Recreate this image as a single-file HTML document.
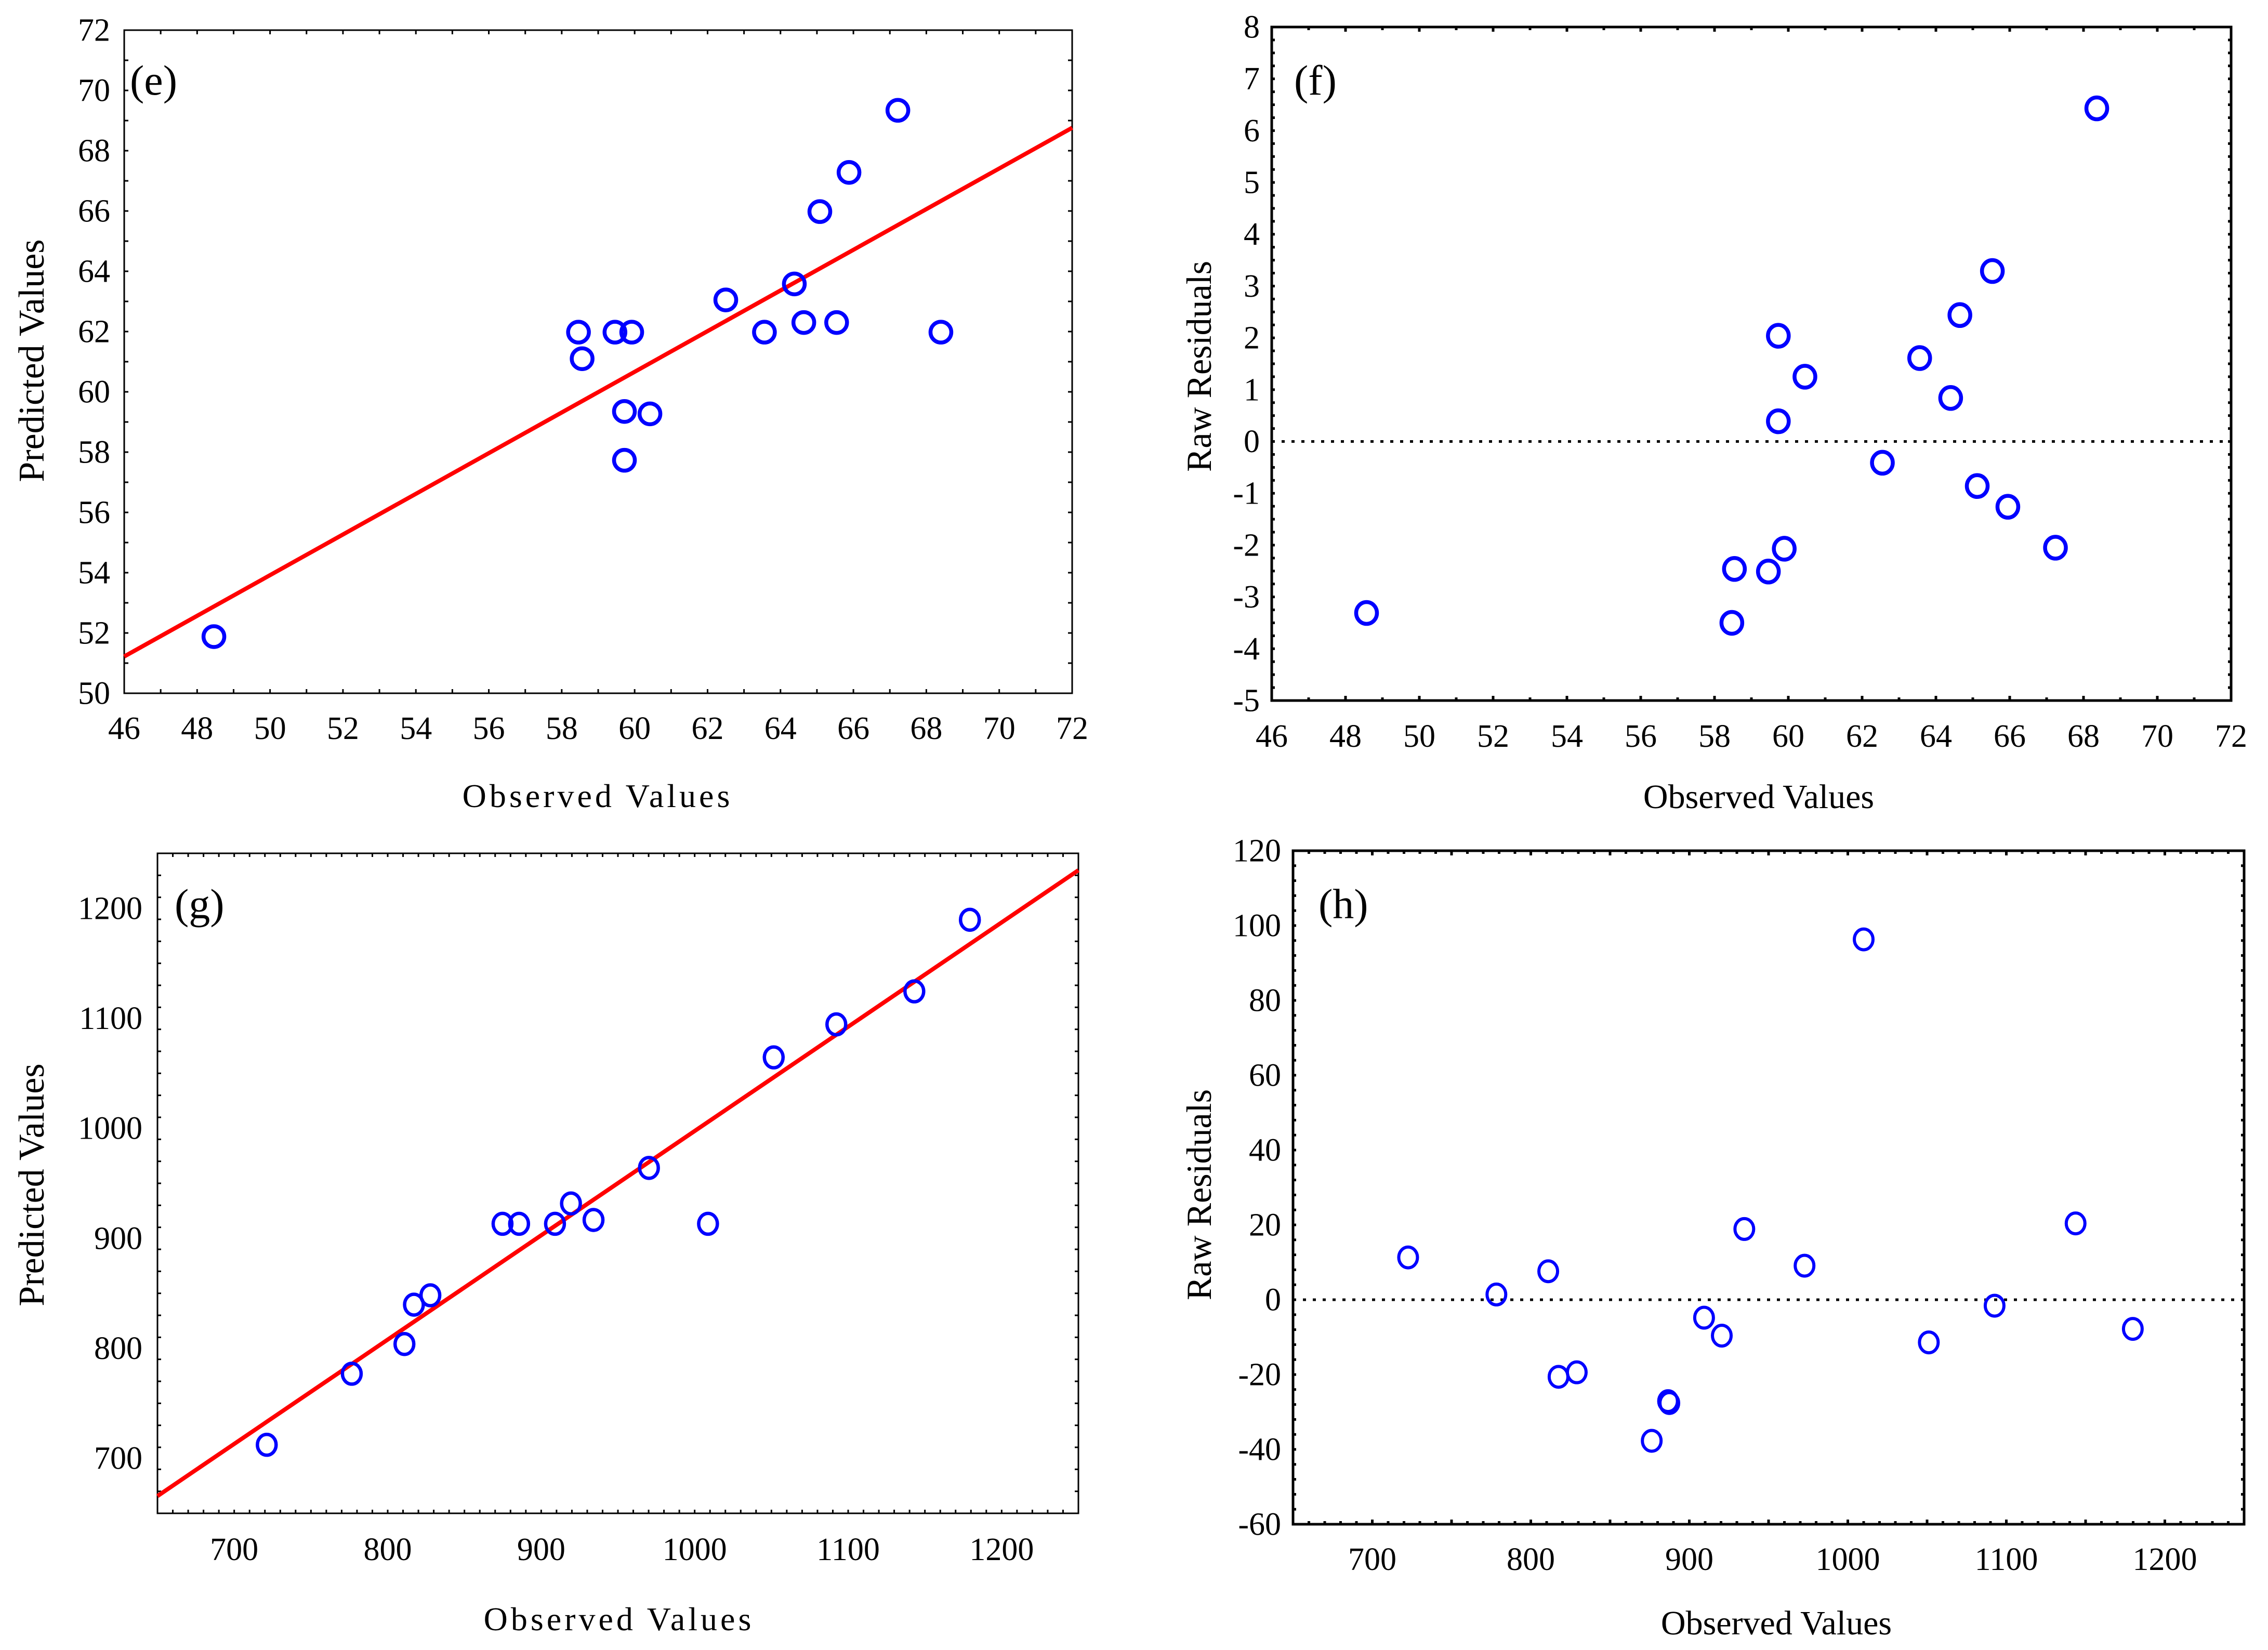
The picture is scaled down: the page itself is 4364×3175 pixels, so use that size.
<!DOCTYPE html>
<html><head><meta charset="utf-8">
<style>
html,body{margin:0;padding:0;background:#fff;}
svg{display:block;}
text{font-family:"Liberation Serif",serif;fill:#000;}
</style></head>
<body>
<svg id="fig" width="4364" height="3175" viewBox="0 0 4364 3175" xmlns="http://www.w3.org/2000/svg"></svg>
<script>
// ---- Panel (e) data: observed vs predicted ----
const eObserved = [48.46,58.46,58.56,59.46,59.92,59.72,60.42,59.72,62.5,63.56,64.38,64.64,65.08,65.54,65.88,67.22,68.4];
const ePredicted = [51.88,61.98,61.10,61.98,61.98,59.35,59.27,57.73,63.05,61.98,63.58,62.30,65.98,62.30,67.28,69.34,61.98];
const eFitX = [46,72];
const eFitY = [51.22,68.76];
const eXTicks = [46,48,50,52,54,56,58,60,62,64,66,68,70,72];
const eYTicks = [50,52,54,56,58,60,62,64,66,68,70,72];
// ---- Panel (f) data: observed vs residuals ----
const fObserved = [48.57,58.47,58.54,59.46,59.89,59.73,59.73,60.45,62.55,63.56,64.40,64.65,65.12,65.53,65.95,67.24,68.36];
const fResidual = [-3.31,-3.50,-2.46,-2.51,-2.07,2.04,0.39,1.25,-0.41,1.61,0.84,2.44,-0.86,3.29,-1.26,-2.05,6.43];
const fXTicks = [46,48,50,52,54,56,58,60,62,64,66,68,70,72];
const fYTicks = [-5,-4,-3,-2,-1,0,1,2,3,4,5,6,7,8];
// ---- Panel (g) data ----
const gObserved = [721.2,776.6,810.9,817.1,827.8,874.8,885.6,909.0,919.4,934.1,970.2,1008.7,1051.5,1092.3,1143.1,1179.3];
const gPredicted = [712.3,776.9,803.9,839.7,848.2,913.2,913.2,913.2,931.7,916.7,964.0,913.2,1064.5,1094.5,1124.5,1189.6];
const gFitX = [650,1250];
const gFitY = [665.7,1234.6];
const gXTicks = [700,800,900,1000,1100,1200];
const gYTicks = [700,800,900,1000,1100,1200];
// ---- Panel (h) data ----
const hObserved = [722.6,778.3,811.0,817.5,829.0,876.3,886.6,887.4,909.3,920.5,934.7,972.7,1010.0,1051.1,1092.6,1143.7,1179.8];
const hResidual = [11.3,1.4,7.6,-20.6,-19.4,-37.7,-27.1,-27.6,-4.8,-9.6,18.9,9.1,96.3,-11.4,-1.6,20.4,-7.8];
const hXTicks = [700,800,900,1000,1100,1200];
const hYTicks = [-60,-40,-20,0,20,40,60,80,100,120];

const NS = "http://www.w3.org/2000/svg";
const fig = document.getElementById('fig');
function mk(tag, attrs, parent){
  const el = document.createElementNS(NS, tag);
  for (const k in attrs) el.setAttribute(k, attrs[k]);
  (parent||fig).appendChild(el);
  return el;
}
function scale(d0,d1,r0,r1){ return v => r0 + (v-d0)*(r1-r0)/(d1-d0); }

function panel(cfg){
  const g = mk('g', {});
  
  
  const sx = scale(cfg.xd[0],cfg.xd[1],cfg.L,cfg.R);
  const sy = scale(cfg.yd[0],cfg.yd[1],cfg.B,cfg.T);
  const tl = cfg.tickLen, tw = cfg.tickW;
  for (let v=cfg.xd[0]; v<=cfg.xd[1]+1e-9; v+=cfg.xMinor){
    const x = sx(v);
    const major = Math.abs(((v-cfg.xd[0])/cfg.xMajor) - Math.round((v-cfg.xd[0])/cfg.xMajor))<1e-6;
    const len = major?cfg.majLen:tl;
    const t1 = mk('line',{x1:x,x2:x,y1:cfg.B,y2:cfg.B-len,stroke:'#000','stroke-width':tw},g);
    
    
    const t2 = mk('line',{x1:x,x2:x,y1:cfg.T,y2:cfg.T+len,stroke:'#000','stroke-width':tw},g);
    
    
  }
  for (let v=cfg.yd[0]; v<=cfg.yd[1]+1e-9; v+=cfg.yMinor){
    const y = sy(v);
    const t1 = mk('line',{x1:cfg.L,x2:cfg.L+tl,y1:y,y2:y,stroke:'#000','stroke-width':tw},g);
    
    
    const t2 = mk('line',{x1:cfg.R,x2:cfg.R-tl,y1:y,y2:y,stroke:'#000','stroke-width':tw},g);
    
    
  }
  const fr = mk('rect',{x:cfg.L,y:cfg.T,width:cfg.R-cfg.L,height:cfg.B-cfg.T,fill:'none',stroke:'#000','stroke-width':cfg.frameW},g);
  
  
  cfg.xTicks.forEach(v=>{
    const t = mk('text',{x:sx(v),y:cfg.xLabBase,'text-anchor':'middle','font-size':cfg.fs},g);
    t.textContent = v;
    
    
  });
  cfg.yTicks.forEach(v=>{
    const t = mk('text',{x:cfg.yLabRight,y:sy(v)+cfg.fs*0.33,'text-anchor':'end','font-size':cfg.fs},g);
    t.textContent = v;
    
    
  });
  const xt = mk('text',{x:cfg.xTitle[0],y:cfg.xTitle[1],'text-anchor':'middle','font-size':cfg.xfs,'letter-spacing':cfg.ls||0},g);
  xt.textContent = 'Observed Values';
  
  
  const yt = mk('text',{x:0,y:0,'text-anchor':'middle','font-size':cfg.yfs,transform:`translate(${cfg.yTitle[0]},${cfg.yTitle[1]}) rotate(-90)`},g);
  yt.textContent = cfg.yTitleText;
  
  
  const pl = mk('text',{x:cfg.tag[0],y:cfg.tag[1],'font-size':82},g);
  pl.textContent = cfg.tagText;
  
  
  if (cfg.fitX){
    const ln = mk('line',{x1:sx(cfg.fitX[0]),y1:sy(cfg.fitY[0]),x2:sx(cfg.fitX[1]),y2:sy(cfg.fitY[1]),stroke:'#ff0000','stroke-width':8},g);
    
    
  }
  if (cfg.zeroLine){
    const ln = mk('line',{x1:cfg.L,y1:sy(0),x2:cfg.R,y2:sy(0),stroke:'#000','stroke-width':5,'stroke-dasharray':'6 13'},g);
    
    
  }
  cfg.xs.forEach((xv,i)=>{
    const c = mk('ellipse',{cx:sx(xv),cy:sy(cfg.ys[i]),rx:cfg.rx,ry:cfg.ry,fill:'none',stroke:'#0000ff','stroke-width':cfg.cw},g);
    
    
  });
}

panel({name:'panel-e',L:239,R:2063,T:58,B:1334,xd:[46,72],yd:[50,72],xMinor:1,xMajor:2,yMinor:1,
  tickLen:8,majLen:8,tickW:3,frameW:3,xTicks:eXTicks,yTicks:eYTicks,xLabBase:1422,yLabRight:212,fs:62,xfs:64,yfs:70,
  xTitle:[1150,1553],ls:6,yTitle:[84,694],yTitleText:'Predicted Values',tag:[250,182],tagText:'(e)',
  fitX:eFitX,fitY:eFitY,xs:eObserved,ys:ePredicted,rx:20,ry:20,cw:7.5});
panel({name:'panel-f',L:2447,R:4293,T:52,B:1348,xd:[46,72],yd:[-5,8],xMinor:1,xMajor:2,yMinor:0.25,
  tickLen:6,majLen:9,tickW:5,frameW:5,xTicks:fXTicks,yTicks:fYTicks,xLabBase:1437,yLabRight:2424,fs:62,xfs:66,yfs:68,
  xTitle:[3384,1555],yTitle:[2330,705],yTitleText:'Raw Residuals',tag:[2490,182],tagText:'(f)',
  zeroLine:true,xs:fObserved,ys:fResidual,rx:20,ry:21,cw:7.5});
panel({name:'panel-g',L:303,R:2075,T:1642,B:2912,xd:[650,1250],yd:[650,1250],xMinor:10,xMajor:50,yMinor:20,
  tickLen:7,majLen:7,tickW:3,frameW:3,xTicks:gXTicks,yTicks:gYTicks,xLabBase:3002,yLabRight:274,fs:62,xfs:64,yfs:70,
  xTitle:[1191,3137],ls:6,yTitle:[84,2280],yTitleText:'Predicted Values',tag:[336,1767],tagText:'(g)',
  fitX:gFitX,fitY:gFitY,xs:gObserved,ys:gPredicted,rx:18,ry:20,cw:6.5});
panel({name:'panel-h',L:2488,R:4318,T:1637,B:2933,xd:[650,1250],yd:[-60,120],xMinor:10,xMajor:50,yMinor:4,
  tickLen:6,majLen:9,tickW:5,frameW:5,xTicks:hXTicks,yTicks:hYTicks,xLabBase:3021,yLabRight:2465,fs:62,xfs:66,yfs:68,
  xTitle:[3418,3145],yTitle:[2330,2299],yTitleText:'Raw Residuals',tag:[2537,1767],tagText:'(h)',
  zeroLine:true,xs:hObserved,ys:hResidual,rx:18,ry:20,cw:6});
</script>
</body></html>
